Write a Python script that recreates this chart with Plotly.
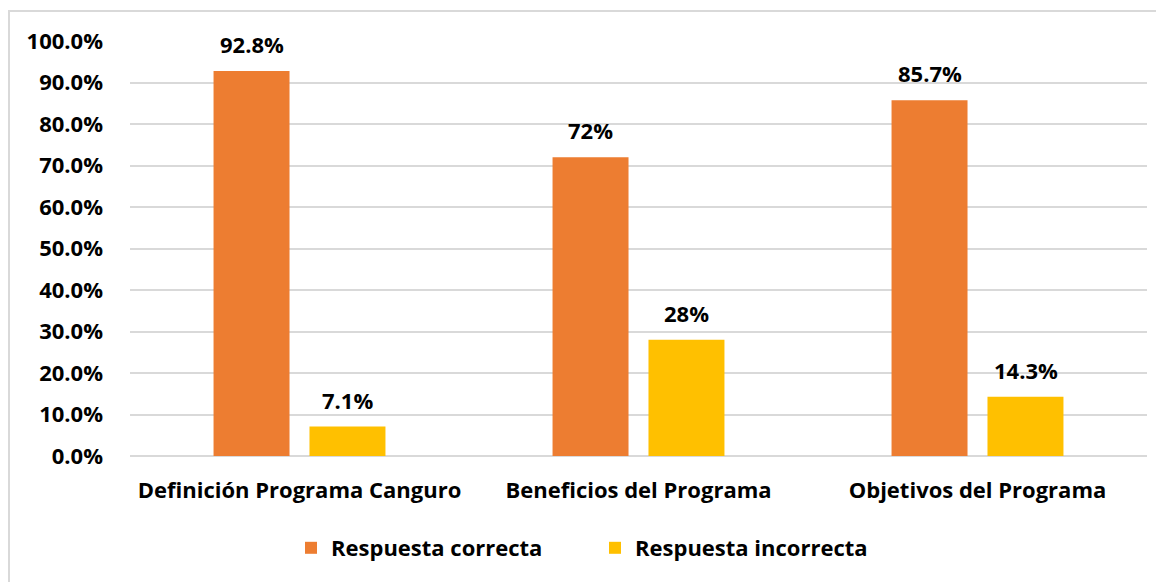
import plotly.graph_objects as go

categories = ["Definición Programa Canguro", "Beneficios del Programa", "Objetivos del Programa"]
correcta = [92.8, 72, 85.7]
incorrecta = [7.1, 28, 14.3]
correcta_labels = ["92.8%", "72%", "85.7%"]
incorrecta_labels = ["7.1%", "28%", "14.3%"]
tick_vals = [0, 10, 20, 30, 40, 50, 60, 70, 80, 90, 100]
tick_text = ["%.1f%%" % v for v in tick_vals]

FONT = "Open Sans"
FS = 22
OFF = 8  # margen del body en la pagina
W, H = 1164 - OFF, 582 - OFF
L, R, T, B = 130 - OFF, 17, 41 - OFF, 126
pw, ph = W - L - R, H - T - B

fig = go.Figure()
fig.add_trace(go.Bar(x=categories, y=correcta, name="Respuesta correcta",
                     marker_color="#ED7D31", marker_line_width=0))
fig.add_trace(go.Bar(x=categories, y=incorrecta, name="Respuesta incorrecta",
                     marker_color="#FFC000", marker_line_width=0))

# etiquetas de datos encima de cada barra
for vals, labels, dx in [(correcta, correcta_labels, -48), (incorrecta, incorrecta_labels, 48)]:
    for c, v, t in zip(categories, vals, labels):
        fig.add_annotation(x=c, y=v, text=t, showarrow=False, xshift=dx, yshift=27,
                           yanchor="middle",
                           font=dict(family=FONT, size=FS, color="black", weight="bold"))

fig.update_layout(
    width=W, height=H,
    margin=dict(l=L, r=R, t=T, b=B, autoexpand=False),
    plot_bgcolor="white", paper_bgcolor="white",
    barmode="group", bargap=0.434, bargroupgap=0.208,
    font=dict(family=FONT, size=FS, color="black", weight="bold"),
    legend=dict(orientation="h", x=(595 - 130) / pw, xanchor="center",
                y=(456 - 548) / ph, yanchor="middle",
                font=dict(family=FONT, size=FS, weight="bold"),
                entrywidth=259, itemwidth=30, traceorder="normal"),
    shapes=[dict(type="rect", xref="paper", yref="paper",
                 x0=(1 - L) / pw, x1=(1163 - 130) / pw,
                 y0=(456 - 600) / ph, y1=(456 - 11) / ph,
                 line=dict(color="#d9d9d9", width=2))],
)
fig.update_yaxes(range=[0, 100], tickvals=tick_vals, ticktext=tick_text,
                 showgrid=True, gridcolor="#d9d9d9", gridwidth=1.5,
                 zeroline=True, zerolinecolor="#d9d9d9", zerolinewidth=1.5,
                 ticks="", ticklabelstandoff=26)
fig.update_xaxes(showline=False, ticks="", ticklabelstandoff=19)

fig.write_html("out.html")
